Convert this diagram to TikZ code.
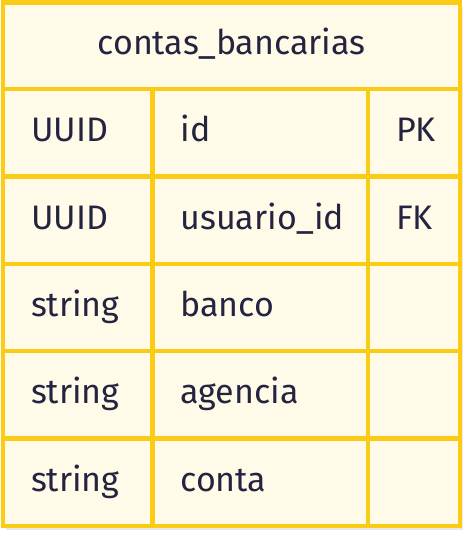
\documentclass[tikz,border=0pt]{standalone}
\usepackage{fontspec}
\setmainfont{Fira Sans}
\usetikzlibrary{positioning,backgrounds}
\definecolor{erline}{RGB}{250,204,21}
\definecolor{erfill}{RGB}{255,251,232}
\definecolor{ertext}{RGB}{37,36,64}
\definecolor{ershadow}{RGB}{233,233,233}
\newcommand{\fieldtext}[2]{\makebox[#1][l]{#2}}

\begin{document}
\begin{tikzpicture}
[x=1pt,y=-1pt,font=\fontsize{34}{41}\selectfont,text=ertext,
    cell/.style={draw=erline,fill=erfill,line width=4.5pt,outer sep=0pt,
        inner xsep=28pt,inner ysep=0pt,minimum height=87.4pt,
        text height=26pt,text depth=8pt},
    header/.style={cell,minimum width=457pt,minimum height=86.5pt}]
%%%%%%%%%%
%% canvas
\useasboundingbox (0,0) rectangle (465,533);
%%
\node[header,anchor=north west,alias=type0] (title) at (3,2.5) {contas\_bancarias};
%%
%% rows: type / field / key
\foreach \type/\field/\key [count=\i, evaluate=\i as \prev using int(\i-1)] in
    {UUID/id/PK, UUID/usuario\_id/FK, string/banco/, string/agencia/, string/conta/}
{
\node[cell,below=0pt of type\prev.south west,anchor=north west] (type\i) {\fieldtext{93.5pt}{\type}};
\node[cell,right=0pt of type\i] (field\i) {\fieldtext{159.5pt}{\field}};
\node[cell,right=0pt of field\i] (key\i) {\fieldtext{36pt}{\key}};
}
%%
%% shadow
\begin{scope}[on background layer]
\fill[ershadow] ([shift={(3,4)}]title.north west) rectangle ([shift={(3,4)}]key5.south east);
\end{scope}
%%
\end{tikzpicture}
\end{document}
